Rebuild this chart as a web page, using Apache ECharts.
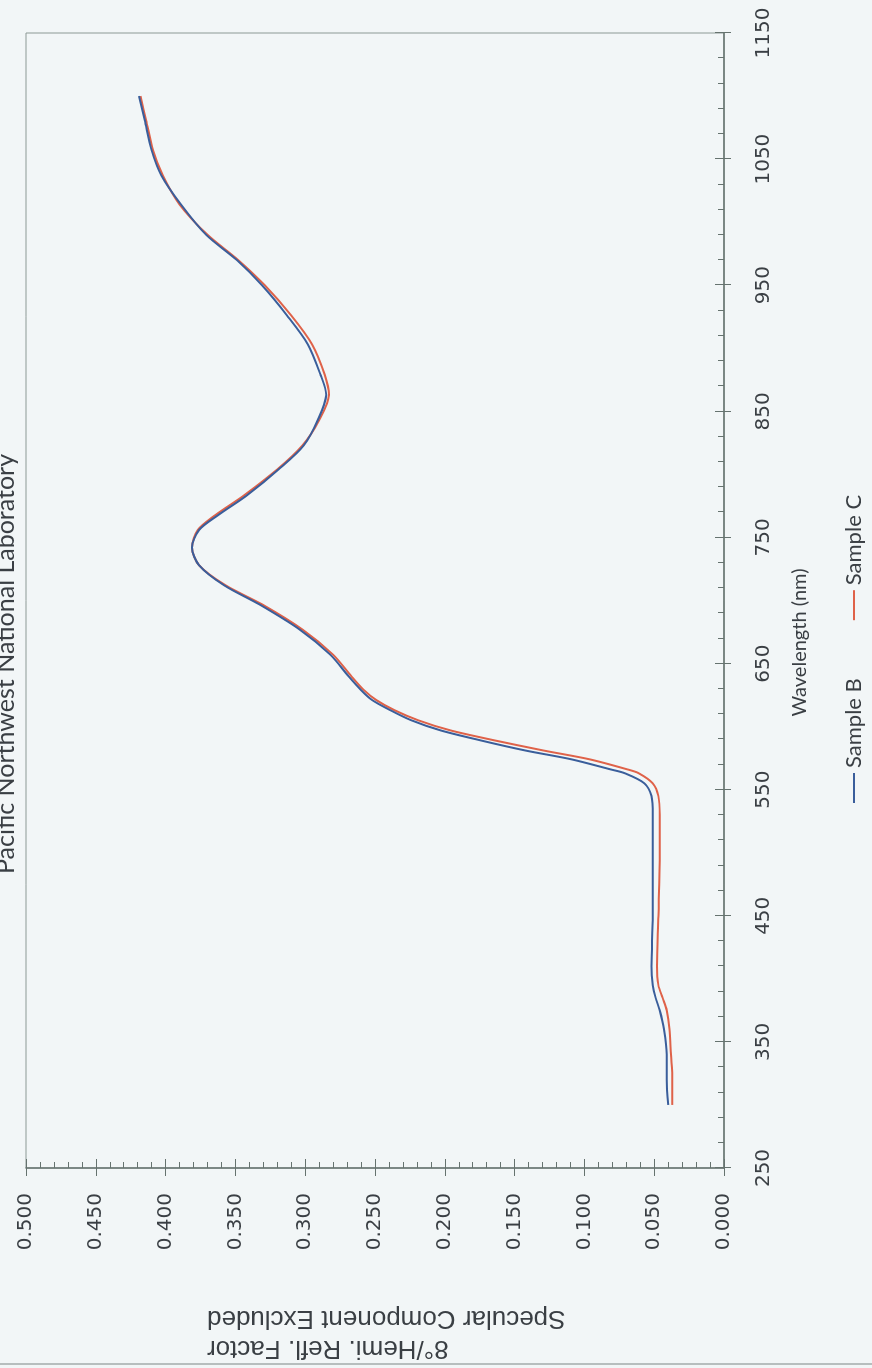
<!DOCTYPE html>
<html><head><meta charset="utf-8">
<script src="https://cdn.jsdelivr.net/npm/echarts@6/dist/echarts.min.js"></script>
<style>
html,body{margin:0;padding:0;width:872px;height:1368px;overflow:hidden;background:#f2f6f7;}
#chart{position:absolute;left:0;top:0;width:1368px;height:872px;transform-origin:0 0;transform:translate(0,1368px) rotate(-90deg);}
</style></head><body><div id="chart"></div>
<script>
// Wavelength (nm)
const wavelengths = [300, 320, 340, 360, 375, 385, 395, 410, 450, 500, 530, 545, 555, 563, 566, 574, 581, 589, 597, 605, 613, 621, 629, 640, 657, 677, 697, 712, 728, 742, 756, 768, 784, 804, 823, 843, 863, 879, 903, 926, 950, 970, 990, 1014, 1037, 1057, 1081, 1100];
// 8°/Hemi. Refl. Factor
const sampleB = [0.040, 0.041, 0.041, 0.043, 0.046, 0.049, 0.051, 0.052, 0.051, 0.051, 0.051, 0.052, 0.057, 0.071, 0.081, 0.109, 0.142, 0.174, 0.203, 0.224, 0.239, 0.252, 0.260, 0.269, 0.282, 0.304, 0.333, 0.358, 0.376, 0.381, 0.376, 0.362, 0.341, 0.319, 0.301, 0.291, 0.285, 0.289, 0.298, 0.313, 0.331, 0.349, 0.371, 0.389, 0.403, 0.410, 0.415, 0.419];
const sampleC = [0.037, 0.037, 0.038, 0.039, 0.041, 0.044, 0.047, 0.048, 0.047, 0.046, 0.046, 0.047, 0.051, 0.061, 0.069, 0.096, 0.129, 0.164, 0.196, 0.219, 0.236, 0.249, 0.258, 0.267, 0.280, 0.302, 0.331, 0.357, 0.376, 0.381, 0.377, 0.364, 0.343, 0.320, 0.302, 0.290, 0.283, 0.286, 0.295, 0.310, 0.329, 0.348, 0.370, 0.390, 0.402, 0.409, 0.414, 0.418];
const wavelengthTicks = [250, 350, 450, 550, 650, 750, 850, 950, 1050, 1150];
const reflectanceTicks = ['0.000', '0.050', '0.100', '0.150', '0.200', '0.250', '0.300', '0.350', '0.400', '0.450', '0.500'];
const seriesNames = ['Sample B', 'Sample C'];
const titleText = 'Pacific Northwest National Laboratory';
const xAxisTitle = 'Wavelength (nm)';
const yAxisTitle = '8°/Hemi. Refl. Factor\nSpecular Component Excluded';

const xMin = wavelengthTicks[0], xMax = wavelengthTicks[wavelengthTicks.length - 1];
const xStep = wavelengthTicks[1] - wavelengthTicks[0];
const yMin = parseFloat(reflectanceTicks[0]), yMax = parseFloat(reflectanceTicks[reflectanceTicks.length - 1]);
const yStep = parseFloat(reflectanceTicks[1]) - yMin;

const axisColor = '#66736f';
const textColor = '#3a3f44';
const chart = echarts.init(document.getElementById('chart'), null, {renderer: 'canvas', width: 1368, height: 872});

const commonInner = {
  axisLine: {show: false},
  axisTick: {show: true, inside: true, length: 9, lineStyle: {color: axisColor, width: 1}},
  minorTick: {show: true, splitNumber: 5, length: 6, lineStyle: {color: axisColor, width: 1}},
  axisLabel: {show: false},
  splitLine: {show: false}
};

chart.setOption({
  backgroundColor: '#f2f6f7',
  animation: false,
  title: {
    text: titleText, left: 704, textAlign: 'center', top: -7, padding: 0,
    textStyle: {fontFamily: 'Lato', fontSize: 25, fontWeight: 'normal', color: textColor}
  },
  grid: {left: 200, right: 33, top: 26, bottom: 148, show: true, borderColor: '#8c9995', borderWidth: 1, backgroundColor: 'transparent'},
  legend: {
    data: seriesNames, left: 565, top: 843, padding: 0, icon: 'rect', itemWidth: 30, itemHeight: 2, itemGap: 58,
    textStyle: {fontFamily: 'Lato', fontSize: 22, color: textColor}
  },
  xAxis: [
    {
      type: 'value', min: xMin, max: xMax, interval: xStep, position: 'bottom',
      name: xAxisTitle, nameLocation: 'middle', nameGap: 66,
      nameTextStyle: {fontFamily: 'Lato', fontSize: 20, color: textColor, padding: [0, 84, 0, 0]},
      axisLine: {show: true, lineStyle: {color: axisColor, width: 1.5}},
      axisTick: {show: true, inside: false, length: 7, lineStyle: {color: axisColor, width: 1}},
      axisLabel: {margin: 30, fontFamily: 'DejaVu Sans', fontSize: 20, color: textColor,
        formatter: function (v) { return String(v); }},
      splitLine: {show: false}
    },
    Object.assign({type: 'value', min: xMin, max: xMax, interval: xStep, position: 'bottom'}, commonInner)
  ],
  yAxis: [
    {
      type: 'value', min: yMin, max: yMax, interval: yStep, position: 'left',
      axisLine: {show: true, lineStyle: {color: axisColor, width: 1.5}},
      axisTick: {show: true, inside: false, length: 8, lineStyle: {color: axisColor, width: 1}},
      axisLabel: {margin: 25, fontFamily: 'DejaVu Sans', fontSize: 20, color: textColor,
        formatter: function (v) { return v.toFixed(3); }},
      splitLine: {show: false}
    },
    Object.assign({type: 'value', min: yMin, max: yMax, interval: yStep, position: 'left'}, commonInner)
  ],
  graphic: [
    {type: 'line', shape: {x1: 4, y1: 0, x2: 4, y2: 872}, style: {stroke: '#a3abab', lineWidth: 1.5}},
    {type: 'text', x: 35, y: 207, rotation: Math.PI / 2,
     style: {text: yAxisTitle, fontFamily: 'Liberation Sans', fontSize: 26, lineHeight: 30,
             align: 'right', verticalAlign: 'middle', fill: textColor}}
  ],
  series: [
    {name: seriesNames[0], type: 'line', showSymbol: false, symbol: 'none', smooth: 0.3,
     lineStyle: {color: '#3a5e9b', width: 2}, itemStyle: {color: '#3a5e9b'}, z: 3,
     data: wavelengths.map(function (w, i) { return [w, sampleB[i]]; })},
    {name: seriesNames[1], type: 'line', showSymbol: false, symbol: 'none', smooth: 0.3,
     lineStyle: {color: '#df6249', width: 2}, itemStyle: {color: '#df6249'}, z: 2,
     data: wavelengths.map(function (w, i) { return [w, sampleC[i]]; })}
  ]
});
</script></body></html>
